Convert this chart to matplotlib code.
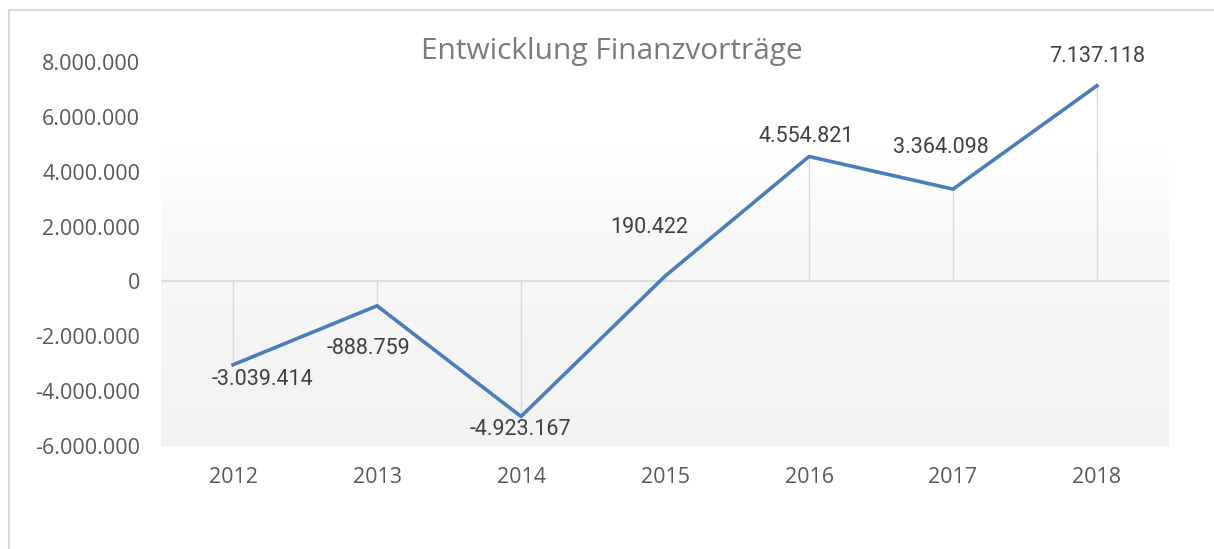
import numpy as np
import matplotlib
matplotlib.use('Agg')
import matplotlib.pyplot as plt
from matplotlib.lines import Line2D
from matplotlib.ticker import FuncFormatter
from matplotlib.colors import LinearSegmentedColormap

# Daten
jahre = ['2012', '2013', '2014', '2015', '2016', '2017', '2018']
werte = [-3039414, -888759, -4923167, 190422, 4554821, 3364098, 7137118]
y_ticks = [-6000000, -4000000, -2000000, 0, 2000000, 4000000, 6000000, 8000000]
titel = 'Entwicklung Finanzvorträge'

# Label-Verschiebungen in Pixeln (dx, dy)
label_offsets = [(29, -15), (-9, -43), (-1, -13), (-16, 49), (-3, 20), (-12, 42), (0, 29)]


def tausender(v, pos=None):
    s = f'{abs(int(round(v))):,}'.replace(',', '.')
    return ('-' if v < 0 else '') + s


fig = plt.figure(figsize=(12.14, 5.49), dpi=100)
ax = fig.add_axes([161 / 1214, 1 - 446 / 549, 1008 / 1214, 384 / 549])

x = np.arange(len(jahre))
ax.set_xlim(-0.5, len(jahre) - 0.5)
ax.set_ylim(-6000000, 8000000)

# Hintergrund-Verlauf (oben weiss, unten hellgrau)
cmap = LinearSegmentedColormap.from_list('bg', [(0, '#f2f2f2'), (0.55, '#f8f8f8'), (0.78, '#ffffff'), (1, '#ffffff')])
grad = np.linspace(0, 1, 256).reshape(-1, 1)
ax.imshow(grad, aspect='auto', cmap=cmap, origin='lower',
          extent=[-0.5, len(jahre) - 0.5, -6000000, 8000000], zorder=0)

# Nulllinie und Lotlinien
ax.axhline(0, color='#d9d9d9', linewidth=1.2, zorder=1)
ax.vlines(x, 0, werte, color='#d9d9d9', linewidth=1.0, zorder=1)

ax.plot(x, werte, color='#4a7ebb', linewidth=2.6, solid_joinstyle='round', zorder=3)

for xi, v, (dx, dy) in zip(x, werte, label_offsets):
    ax.annotate(tausender(v), (xi, v), xytext=(dx, dy), textcoords='offset pixels',
                ha='center', va='center', fontsize=15.5, color='#404040',
                family='Roboto', zorder=4)

ax.set_xticks(x)
ax.set_xticklabels(jahre)
ax.set_yticks(y_ticks)
ax.yaxis.set_major_formatter(FuncFormatter(tausender))
ax.tick_params(axis='both', length=0, labelsize=15.5, labelcolor='#595959')
ax.tick_params(axis='y', pad=15)
ax.tick_params(axis='x', pad=15)
for lab in ax.get_xticklabels() + ax.get_yticklabels():
    lab.set_family('Open Sans')
for sp in ax.spines.values():
    sp.set_visible(False)

fig.text(612 / 1214, 1 - 51 / 549, titel, ha='center', va='center',
         fontsize=21.5, color='#7a7a7a', family='Open Sans')

# Rahmen des Diagrammbereichs
fig.add_artist(Line2D([9 / 1214, 1], [1 - 10 / 549, 1 - 10 / 549], color='#d9d9d9', linewidth=1.5))
fig.add_artist(Line2D([9 / 1214, 9 / 1214], [0, 1 - 10 / 549], color='#d9d9d9', linewidth=1.5))

fig.savefig('out.png', dpi=100, facecolor='white')
